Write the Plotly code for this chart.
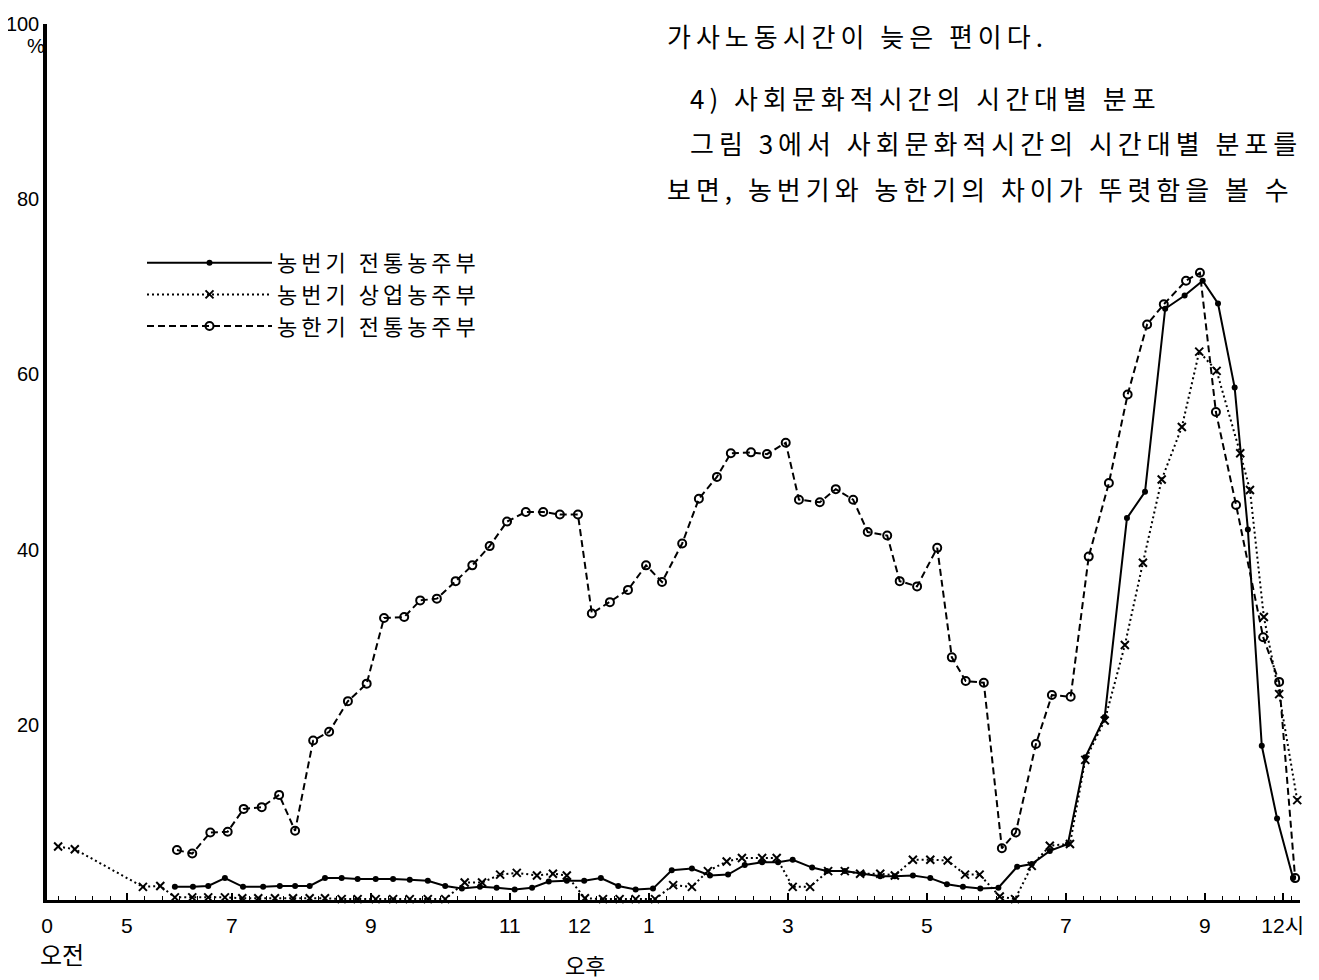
import plotly.graph_objects as go

# ---- data (hours of day, % of respondents) ----
times_busy_trad = [6.18, 6.44, 6.66, 6.90, 7.16, 7.45, 7.69, 7.91, 8.12, 8.34,
                   8.58, 8.81, 9.07, 9.32, 9.56, 9.82, 10.07, 10.31, 10.57, 10.81,
                   11.07, 11.32, 11.56, 11.82, 12.07, 12.31, 12.56, 12.81, 13.06, 13.33,
                   13.62, 13.88, 14.14, 14.38, 14.63, 14.86, 15.07, 15.35, 15.56, 15.82,
                   16.08, 16.33, 16.54, 16.80, 17.05, 17.29, 17.52, 17.77, 18.03, 18.30,
                   18.51, 18.77, 19.03, 19.28, 19.56, 19.88, 20.14, 20.43, 20.71, 20.97,
                   21.19, 21.43, 21.62, 21.82, 22.04, 22.27]
vals_busy_trad = [1.5, 1.5, 1.6, 2.5, 1.5, 1.5, 1.6, 1.6, 1.6, 2.5,
                  2.5, 2.4, 2.4, 2.4, 2.3, 2.2, 1.6, 1.3, 1.5, 1.4,
                  1.2, 1.4, 2.1, 2.2, 2.2, 2.5, 1.6, 1.2, 1.3, 3.4,
                  3.6, 2.8, 2.9, 4.0, 4.3, 4.3, 4.6, 3.7, 3.3, 3.3,
                  3.0, 2.7, 2.7, 2.8, 2.5, 1.8, 1.5, 1.3, 1.4, 3.8,
                  4.1, 5.6, 6.4, 16.3, 20.9, 43.6, 46.6, 67.5, 69.0, 70.7,
                  68.1, 58.5, 42.3, 17.6, 9.3, 2.5]

times_busy_comm = [4.50, 4.74, 5.72, 5.97, 6.18, 6.43, 6.66, 6.90, 7.15, 7.38,
                   7.62, 7.88, 8.12, 8.34, 8.58, 8.81, 9.07, 9.32, 9.56, 9.82,
                   10.07, 10.35, 10.60, 10.86, 11.10, 11.39, 11.62, 11.82, 12.08, 12.34,
                   12.58, 12.81, 13.09, 13.35, 13.62, 13.85, 14.12, 14.34, 14.63, 14.84,
                   15.07, 15.32, 15.58, 15.82, 16.04, 16.33, 16.54, 16.80, 17.05, 17.30,
                   17.55, 17.76, 18.05, 18.27, 18.51, 18.77, 19.06, 19.28, 19.56, 19.85,
                   20.11, 20.38, 20.67, 20.92, 21.17, 21.51, 21.65, 21.85, 22.07, 22.33]
vals_busy_comm = [6.1, 5.8, 1.5, 1.6, 0.3, 0.3, 0.3, 0.3, 0.2, 0.2,
                  0.2, 0.2, 0.2, 0.2, 0.1, 0.1, 0.1, 0.1, 0.1, 0.1,
                  0.1, 2.0, 2.0, 2.9, 3.1, 2.8, 3.0, 2.8, 0.2, 0.1,
                  0.1, 0.1, 0.1, 1.7, 1.5, 3.3, 4.4, 4.8, 4.8, 4.8,
                  1.5, 1.5, 3.3, 3.3, 3.0, 3.0, 2.8, 4.6, 4.6, 4.5,
                  2.9, 2.9, 0.4, 0.1, 3.9, 6.2, 6.4, 16.0, 20.5, 29.1,
                  38.5, 48.0, 54.0, 62.6, 60.4, 51.0, 46.8, 32.3, 23.5, 11.4]

times_slack_trad = [6.21, 6.43, 6.69, 6.94, 7.17, 7.43, 7.68, 7.91, 8.17, 8.40,
                    8.67, 8.94, 9.19, 9.48, 9.71, 9.95, 10.22, 10.46, 10.71, 10.96,
                    11.23, 11.48, 11.72, 11.98, 12.18, 12.44, 12.70, 12.96, 13.19, 13.48,
                    13.72, 13.98, 14.18, 14.47, 14.70, 14.97, 15.16, 15.46, 15.69, 15.94,
                    16.15, 16.43, 16.61, 16.86, 17.15, 17.36, 17.56, 17.82, 18.08, 18.28,
                    18.57, 18.80, 19.07, 19.33, 19.62, 19.89, 20.17, 20.41, 20.73, 20.93,
                    21.16, 21.45, 21.84, 22.07, 22.30]
vals_slack_trad = [5.7, 5.3, 7.7, 7.8, 10.4, 10.6, 12.0, 7.9, 18.2, 19.2,
                   22.7, 24.7, 32.2, 32.3, 34.2, 34.4, 36.4, 38.2, 40.4, 43.2,
                   44.3, 44.3, 44.0, 44.0, 32.7, 34.0, 35.4, 38.2, 36.3, 40.7,
                   45.8, 48.3, 51.0, 51.1, 50.9, 52.2, 45.7, 45.4, 46.9, 45.7,
                   42.0, 41.6, 36.4, 35.8, 40.2, 27.7, 25.0, 24.8, 5.9, 7.7,
                   17.8, 23.4, 23.2, 39.2, 47.6, 57.7, 65.7, 68.0, 70.7, 71.6,
                   55.7, 45.1, 30.0, 24.9, 2.5]

series_names = ["농번기 전통농주부", "농번기 상업농주부", "농한기 전통농주부"]

x_tick_pos = [4.34, 5.49, 7, 9, 11, 12, 13, 15, 17, 19, 21, 22.12]
x_tick_text = ["0", "5", "7", "9", "11", "12", "1", "3", "5", "7", "9", "12시"]
y_tick_pos = [20, 40, 60, 80, 100]
y_tick_text = ["20", "40", "60", "80", "100"]

# ---- figure geometry (the page body adds an 8px offset) ----
OFF = 8
W, H = 1319 - OFF, 980 - OFF
ML = 47 - OFF           # y axis at page x = 47
MT = 24 - OFF           # value 100 at page y = 24
MB = H - (900 - OFF)    # value 0 at page y = 900
MR = W - (1300 - OFF)   # axis end at page x = 1300
PW, PH = W - ML - MR, H - MT - MB


def px(xp):
    return (xp - OFF - ML) / PW


def py(yp):
    return (H - MB - (yp - OFF)) / PH


def spaced(s, sp):
    return '<span style="letter-spacing:%spx">%s</span>' % (sp, s)


LAT = "Liberation Sans, Noto Sans CJK KR, sans-serif"
KR = "Noto Sans CJK KR, sans-serif"

fig = go.Figure()
fig.add_trace(go.Scatter(
    x=times_busy_trad, y=vals_busy_trad, name=spaced(series_names[0], 4), mode="lines+markers",
    line=dict(color="black", width=2),
    marker=dict(symbol="circle", size=6, color="black"), cliponaxis=False))
fig.add_trace(go.Scatter(
    x=times_busy_comm, y=vals_busy_comm, name=spaced(series_names[1], 4), mode="lines+markers",
    line=dict(color="black", width=2, dash="2px,3px"),
    marker=dict(symbol="x-thin", size=8, color="black", line=dict(color="black", width=2)),
    cliponaxis=False))
fig.add_trace(go.Scatter(
    x=times_slack_trad, y=vals_slack_trad, name=spaced(series_names[2], 4), mode="lines+markers",
    line=dict(color="black", width=2, dash="7px,4px"),
    marker=dict(symbol="circle-open", size=8, color="black", line=dict(color="black", width=2)),
    cliponaxis=False))

minor_vals = [4.5 + 0.25 * i for i in range(72)]

fig.update_layout(
    width=W, height=H,
    margin=dict(l=ML, r=MR, t=MT, b=MB, autoexpand=False),
    paper_bgcolor="white", plot_bgcolor="white",
    showlegend=True,
    legend=dict(x=px(142), y=py(242), xanchor="left", yanchor="top",
                font=dict(family=KR, size=22, color="black"),
                itemwidth=125, bgcolor="rgba(0,0,0,0)", tracegroupgap=0),
    xaxis=dict(range=[4.34, 22.37], showgrid=False, zeroline=False, automargin=False,
               showline=True, linecolor="black", linewidth=2.5,
               tickmode="array", tickvals=x_tick_pos, ticktext=x_tick_text,
               ticks="inside", ticklen=7, tickwidth=1.5, tickcolor="black",
               tickfont=dict(family=LAT, size=21, color="black"),
               ticklabelstandoff=5,
               minor=dict(tickmode="array", tickvals=minor_vals, ticks="inside",
                          ticklen=4, tickwidth=1.2, tickcolor="black")),
    yaxis=dict(range=[0, 100], showgrid=False, zeroline=False, automargin=False,
               showline=True, linecolor="black", linewidth=3.5,
               tickmode="array", tickvals=y_tick_pos, ticktext=y_tick_text,
               ticks="", tickfont=dict(family=LAT, size=20, color="black"),
               ticklabelstandoff=0),
)

annos = [
    dict(text="%", x=px(36), y=py(46), size=20, font=LAT, xanchor="center"),
    dict(text="오전", x=px(62), y=py(953), size=24, font=KR, xanchor="center"),
    dict(text="오후", x=px(585), y=py(964), size=22, font=KR, xanchor="center"),
    dict(text=spaced("가사노동시간이 늦은 편이다.", 5), x=px(665), y=py(35), size=26, font=KR, xanchor="left"),
    dict(text=spaced("4) 사회문화적시간의 시간대별 분포", 5), x=px(688), y=py(98), size=26, font=KR, xanchor="left"),
    dict(text=spaced("그림 3에서 사회문화적시간의 시간대별 분포를", 5), x=px(688), y=py(143), size=26, font=KR, xanchor="left"),
    dict(text=spaced("보면, 농번기와 농한기의 차이가 뚜렷함을 볼 수", 5), x=px(665), y=py(188), size=26, font=KR, xanchor="left"),
]
for a in annos:
    fig.add_annotation(text=a["text"], x=a["x"], y=a["y"], xref="paper", yref="paper",
                       xanchor=a["xanchor"], yanchor="middle", showarrow=False,
                       font=dict(family=a["font"], size=a["size"], color="black"))

fig.write_html("out.html")
